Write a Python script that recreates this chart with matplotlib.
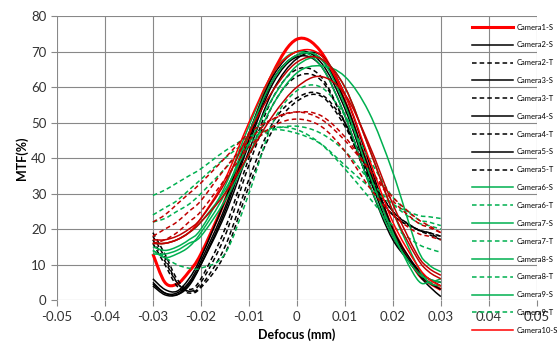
import matplotlib
matplotlib.use('Agg')
import matplotlib.pyplot as plt
from matplotlib.path import Path
from matplotlib.patches import PathPatch
from matplotlib.lines import Line2D

plt.rcParams['font.family'] = ['Lato', 'DejaVu Sans']

# defocus positions (mm)
defocus = [-0.03, -0.0275, -0.025, -0.0225, -0.02, -0.015, -0.01, -0.005,
           0.0, 0.005, 0.01, 0.015, 0.02, 0.025, 0.0275, 0.03]

cam1_s = [13, 5, 4.5, 8, 13, 28, 46, 64, 73.5, 70, 56, 37, 20, 8, 5, 3]
cam2_s = [6, 3, 2.5, 6, 12, 28, 47, 63, 70, 67, 54, 35, 18, 8, 5, 3]
cam2_t = [19, 13, 6, 3, 6, 20, 40, 57, 65, 63, 50, 34, 24, 20, 19, 18]
cam3_s = [5, 2, 2, 5, 11, 26, 45, 62, 69, 68, 56, 37, 19, 8, 4, 1]
cam3_t = [18, 12, 5, 2.5, 5, 18, 38, 55, 63, 62, 50, 34, 24, 20, 19, 18]
cam4_s = [4.5, 2, 1.5, 4, 10, 25, 44, 61, 68.5, 66, 52, 33, 17, 9, 6, 5]
cam4_t = [17, 11, 5, 2.5, 4, 15, 34, 50, 57, 58, 50, 36, 25, 20, 19, 17]
cam5_s = [4, 1.5, 1.5, 4.5, 10, 24, 42, 59, 68, 69, 58, 39, 20, 9, 6, 4]
cam5_t = [16, 10, 4, 2, 3.5, 13, 32, 48, 56, 57.5, 49, 35, 25, 20, 18.5, 17]
cam6_s = [14, 12, 13, 15, 19, 30, 47, 62, 69, 68, 55, 36, 19, 6, 5, 6]
cam6_t = [29.5, 31, 33, 35, 37, 42, 46, 48, 47, 44, 38, 32, 27, 24, 23.5, 23]
cam7_s = [15, 14, 15, 17, 20, 32, 49, 64, 70, 66, 52, 33, 18, 8, 6, 5]
cam7_t = [24, 26, 28, 31, 34, 40, 45, 48.5, 48, 44, 37, 29, 21, 16, 14.5, 13.5]
cam8_s = [13, 13, 14, 16, 18, 28, 41, 55, 64, 66, 63, 53, 36, 15, 10, 8]
cam8_t = [22, 23, 25, 27, 30, 37, 44, 48, 49, 47, 42, 34, 27, 22, 21, 20]
cam9_s = [16, 16, 17, 19, 22, 31, 44, 57, 66, 68, 60, 43, 25, 10, 5, 4]
cam9_t = [14, 12, 10, 9, 9, 13, 30, 50, 59, 60, 52, 40, 29, 23, 22, 21]
cam10_s = [16, 16, 17, 19, 23, 34, 50, 64, 70, 69, 58, 40, 22, 10, 6, 4]
cam10_t = [22, 24, 27, 30, 33, 40, 47, 51, 53, 52, 46, 37, 28, 22, 20.5, 19]
cam11_s = [17, 17, 18, 20, 23, 33, 47, 59, 67, 68, 60, 43, 25, 12, 8, 6]
cam11_t = [18, 20, 22, 25, 28, 37, 45, 51, 53, 51, 45, 37, 29, 23, 21, 19]
cam12_s = [16, 16, 17, 19, 22, 30, 41, 52, 60, 63, 58, 44, 27, 13, 9, 7]
cam12_t = [16, 17, 19, 22, 25, 34, 43, 49, 51, 49, 42, 32, 24, 19, 18, 17]

series = [
    ('Camera1-S', cam1_s, '#FF0000', '-', 2.2),
    ('Camera2-S', cam2_s, 'black', '-', 1.1),
    ('Camera2-T', cam2_t, 'black', '--', 1.1),
    ('Camera3-S', cam3_s, 'black', '-', 1.1),
    ('Camera3-T', cam3_t, 'black', '--', 1.1),
    ('Camera4-S', cam4_s, 'black', '-', 1.1),
    ('Camera4-T', cam4_t, 'black', '--', 1.1),
    ('Camera5-S', cam5_s, 'black', '-', 1.1),
    ('Camera5-T', cam5_t, 'black', '--', 1.1),
    ('Camera6-S', cam6_s, '#00B050', '-', 1.1),
    ('Camera6-T', cam6_t, '#00B050', '--', 1.1),
    ('Camera7-S', cam7_s, '#00B050', '-', 1.1),
    ('Camera7-T', cam7_t, '#00B050', '--', 1.1),
    ('Camera8-S', cam8_s, '#00B050', '-', 1.1),
    ('Camera8-T', cam8_t, '#00B050', '--', 1.1),
    ('Camera9-S', cam9_s, '#00B050', '-', 1.1),
    ('Camera9-T', cam9_t, '#00B050', '--', 1.1),
    ('Camera10-S', cam10_s, '#FF0000', '-', 1.1),
    ('Camera10-T', cam10_t, '#C00000', '--', 1.1),
    ('Camera11-S', cam11_s, '#C00000', '-', 1.1),
    ('Camera11-T', cam11_t, '#C00000', '--', 1.1),
    ('Camera12-S', cam12_s, '#C00000', '-', 1.1),
    ('Camera12-T', cam12_t, '#C00000', '--', 1.1),
]
# the legend only fits the first 18 entries
n_legend = 18


def smoothPath(xs, ys):
	# Excel style smoothed line: catmull-rom segments as cubic beziers
	pts = list(zip(xs, ys))
	verts = [pts[0]]
	codes = [Path.MOVETO]
	n = len(pts)
	for i in range(n - 1):
		p0 = pts[i - 1] if i > 0 else pts[i]
		p1 = pts[i]
		p2 = pts[i + 1]
		p3 = pts[i + 2] if i + 2 < n else pts[i + 1]
		c1 = (p1[0] + (p2[0] - p0[0]) / 6, p1[1] + (p2[1] - p0[1]) / 6)
		c2 = (p2[0] - (p3[0] - p1[0]) / 6, p2[1] - (p3[1] - p1[1]) / 6)
		verts += [c1, c2, p2]
		codes += [Path.CURVE4] * 3
	return Path(verts, codes)


fig = plt.figure(figsize=(5.58, 3.59), dpi=100)
ax = fig.add_axes([0.102, 0.164, 0.86, 0.791])

handles = []
for name, vals, col, ls, lw in series:
	dash = (0, (3, 2)) if ls == '--' else '-'
	ax.add_patch(PathPatch(smoothPath(defocus, vals), fill=False, edgecolor=col,
	                       lw=lw, linestyle=dash, capstyle='butt', zorder=3))
	handles.append(Line2D([], [], color=col, lw=lw, linestyle=dash, label=name))

ax.set_xlim(-0.05, 0.05)
ax.set_ylim(0, 80)
ax.set_xticks([-0.05, -0.04, -0.03, -0.02, -0.01, 0, 0.01, 0.02, 0.03, 0.04, 0.05])
ax.set_xticklabels(['-0.05', '-0.04', '-0.03', '-0.02', '-0.01', '0', '0.01', '0.02', '0.03', '0.04', '0.05'])
ax.set_yticks(range(0, 81, 10))
ax.grid(True, color='#888888', lw=0.8)
ax.set_axisbelow(True)
for s in ax.spines.values():
	s.set_visible(False)
ax.tick_params(axis='both', colors='#888888', length=4, width=0.8, labelsize=9.5, labelcolor='#333333')
ax.set_xlabel('Defocus (mm)', fontsize=9, fontweight='bold', labelpad=4)
ax.set_ylabel('MTF(%)', fontsize=9, fontweight='bold', labelpad=2)

fig.legend(handles=handles[:n_legend], loc='upper left', bbox_to_anchor=(0.841, 0.943), frameon=False,
           fontsize=5.5, handlelength=5.3, handletextpad=0.5, labelspacing=1.42, borderaxespad=0)

fig.savefig('out.png', dpi=100)
